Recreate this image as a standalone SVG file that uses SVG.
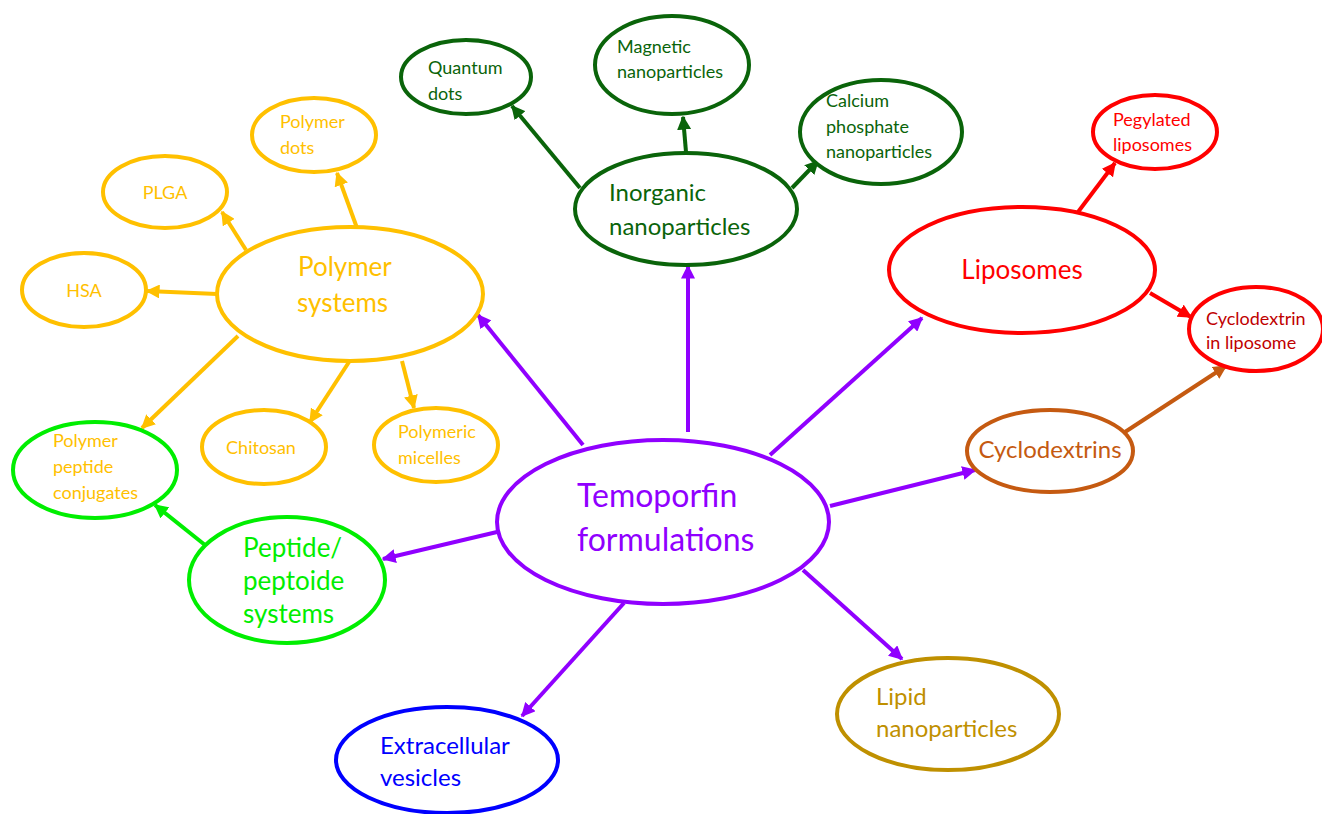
<svg xmlns="http://www.w3.org/2000/svg" width="1322" height="814" viewBox="0 0 1322 814">
<style>
text{font-family:Lato,"Open Sans","Liberation Sans",sans-serif;}
ellipse{fill:#fff;stroke-width:4;}
.s18{font-size:18px}.s24{font-size:24px}.s26{font-size:26px}.s32{font-size:32px}
.pu{stroke:#9000FF;fill:#9000FF}.or{stroke:#FFC000;fill:#FFC000}.dg{stroke:#0A640A;fill:#0A640A}
.lg{stroke:#00EE00;fill:#00EE00}.rd{stroke:#FF0000;fill:#FF0000}.br{stroke:#C55A11;fill:#C55A11}
.gd{stroke:#BF9000;fill:#BF9000}.bl{stroke:#0000FF;fill:#0000FF}
#connectors line{stroke-width:4;fill:none}
</style>
<defs>
<marker id="aPu" viewBox="0 0 10 10" refX="9" refY="5" markerWidth="14" markerHeight="14" markerUnits="userSpaceOnUse" orient="auto"><path d="M0,0L10,5L0,10z" fill="#9000FF"/></marker>
<marker id="aOr" viewBox="0 0 10 10" refX="9" refY="5" markerWidth="14" markerHeight="14" markerUnits="userSpaceOnUse" orient="auto"><path d="M0,0L10,5L0,10z" fill="#FFC000"/></marker>
<marker id="aDg" viewBox="0 0 10 10" refX="9" refY="5" markerWidth="14" markerHeight="14" markerUnits="userSpaceOnUse" orient="auto"><path d="M0,0L10,5L0,10z" fill="#0A640A"/></marker>
<marker id="aLg" viewBox="0 0 10 10" refX="9" refY="5" markerWidth="14" markerHeight="14" markerUnits="userSpaceOnUse" orient="auto"><path d="M0,0L10,5L0,10z" fill="#00EE00"/></marker>
<marker id="aRd" viewBox="0 0 10 10" refX="9" refY="5" markerWidth="14" markerHeight="14" markerUnits="userSpaceOnUse" orient="auto"><path d="M0,0L10,5L0,10z" fill="#FF0000"/></marker>
<marker id="aBr" viewBox="0 0 10 10" refX="9" refY="5" markerWidth="14" markerHeight="14" markerUnits="userSpaceOnUse" orient="auto"><path d="M0,0L10,5L0,10z" fill="#C55A11"/></marker>
</defs>
<rect width="1322" height="814" fill="#fff"/>
<g id="connectors">
<line class="pu" x1="583" y1="445" x2="478" y2="315" marker-end="url(#aPu)"/>
<line class="pu" x1="688" y1="432" x2="688" y2="266" marker-end="url(#aPu)"/>
<line class="pu" x1="770" y1="455" x2="922" y2="318" marker-end="url(#aPu)"/>
<line class="pu" x1="830" y1="506" x2="975" y2="470" marker-end="url(#aPu)"/>
<line class="pu" x1="803" y1="570" x2="902" y2="659" marker-end="url(#aPu)"/>
<line class="pu" x1="624" y1="603" x2="522" y2="716" marker-end="url(#aPu)"/>
<line class="pu" x1="497" y1="532" x2="383" y2="559" marker-end="url(#aPu)"/>
<line class="or" x1="357" y1="228" x2="337" y2="173" marker-end="url(#aOr)"/>
<line class="or" x1="246" y1="250" x2="222" y2="212" marker-end="url(#aOr)"/>
<line class="or" x1="217" y1="294" x2="147" y2="291" marker-end="url(#aOr)"/>
<line class="or" x1="238" y1="336" x2="142" y2="428" marker-end="url(#aOr)"/>
<line class="or" x1="349" y1="362" x2="310" y2="422" marker-end="url(#aOr)"/>
<line class="or" x1="402" y1="361" x2="414" y2="408" marker-end="url(#aOr)"/>
<line class="dg" x1="580" y1="188" x2="512" y2="106" marker-end="url(#aDg)"/>
<line class="dg" x1="686" y1="152" x2="683" y2="117" marker-end="url(#aDg)"/>
<line class="dg" x1="792" y1="188" x2="818" y2="161" marker-end="url(#aDg)"/>
<line class="lg" x1="205" y1="545" x2="155" y2="505" marker-end="url(#aLg)"/>
<line class="rd" x1="1078" y1="212" x2="1115" y2="163" marker-end="url(#aRd)"/>
<line class="rd" x1="1150" y1="293" x2="1191" y2="317" marker-end="url(#aRd)"/>
<line class="br" x1="1125" y1="432" x2="1226" y2="366" marker-end="url(#aBr)"/>
</g>
<g id="temoporfin"><ellipse class="pu" style="fill:#fff" cx="663" cy="522" rx="166" ry="82"/><text class="s32" fill="#9000FF" x="577" y="507">Temoporfin</text><text class="s32" fill="#9000FF" x="577" y="551">formulations</text></g>
<g id="polymer-systems"><ellipse class="or" style="fill:#fff" cx="350" cy="294" rx="133" ry="67"/><text class="s26" fill="#FFC000" x="298" y="276">Polymer</text><text class="s26" fill="#FFC000" x="297" y="312">systems</text></g>
<g id="polymer-dots"><ellipse class="or" style="fill:#fff" cx="314" cy="135" rx="62" ry="37"/><text class="s18" fill="#FFC000" x="280" y="128">Polymer</text><text class="s18" fill="#FFC000" x="280" y="154">dots</text></g>
<g id="plga"><ellipse class="or" style="fill:#fff" cx="165" cy="192" rx="62" ry="36"/><text class="s18" fill="#FFC000" x="165" y="199" text-anchor="middle">PLGA</text></g>
<g id="hsa"><ellipse class="or" style="fill:#fff" cx="84" cy="290" rx="62" ry="37"/><text class="s18" fill="#FFC000" x="84" y="297" text-anchor="middle">HSA</text></g>
<g id="chitosan"><ellipse class="or" style="fill:#fff" cx="264" cy="447" rx="62" ry="37"/><text class="s18" fill="#FFC000" x="261" y="454" text-anchor="middle">Chitosan</text></g>
<g id="polymeric-micelles"><ellipse class="or" style="fill:#fff" cx="436" cy="445" rx="62" ry="37"/><text class="s18" fill="#FFC000" x="398" y="438">Polymeric</text><text class="s18" fill="#FFC000" x="398" y="464">micelles</text></g>
<g id="polymer-peptide-conjugates"><ellipse class="lg" style="fill:#fff" cx="95" cy="470" rx="82" ry="48"/><text class="s18" fill="#FFC000" x="53" y="447">Polymer</text><text class="s18" fill="#FFC000" x="53" y="473">peptide</text><text class="s18" fill="#FFC000" x="53" y="499">conjugates</text></g>
<g id="peptide-systems"><ellipse class="lg" style="fill:#fff" cx="287" cy="580" rx="98" ry="63"/><text class="s26" fill="#00EE00" x="243" y="557">Peptide/</text><text class="s26" fill="#00EE00" x="243" y="590">peptoide</text><text class="s26" fill="#00EE00" x="243" y="623">systems</text></g>
<g id="inorganic"><ellipse class="dg" style="fill:#fff" cx="686" cy="209" rx="111" ry="56"/><text class="s24" fill="#0A640A" x="609" y="201">Inorganic</text><text class="s24" fill="#0A640A" x="609" y="235">nanoparticles</text></g>
<g id="quantum-dots"><ellipse class="dg" style="fill:#fff" cx="466" cy="77" rx="65" ry="37"/><text class="s18" fill="#0A640A" x="428" y="74">Quantum</text><text class="s18" fill="#0A640A" x="428" y="100">dots</text></g>
<g id="magnetic"><ellipse class="dg" style="fill:#fff" cx="672" cy="65" rx="77" ry="49"/><text class="s18" fill="#0A640A" x="617" y="53">Magnetic</text><text class="s18" fill="#0A640A" x="617" y="78">nanoparticles</text></g>
<g id="calcium-phosphate"><ellipse class="dg" style="fill:#fff" cx="881" cy="132" rx="81" ry="52"/><text class="s18" fill="#0A640A" x="826" y="107">Calcium</text><text class="s18" fill="#0A640A" x="826" y="133">phosphate</text><text class="s18" fill="#0A640A" x="826" y="158">nanoparticles</text></g>
<g id="liposomes"><ellipse class="rd" style="fill:#fff" cx="1022" cy="270" rx="133" ry="63"/><text class="s26" fill="#FF0000" x="1022" y="279" text-anchor="middle">Liposomes</text></g>
<g id="pegylated"><ellipse class="rd" style="fill:#fff" cx="1155" cy="132" rx="62" ry="37"/><text class="s18" fill="#FF0000" x="1113" y="126">Pegylated</text><text class="s18" fill="#FF0000" x="1113" y="151">liposomes</text></g>
<g id="cyclodextrin-liposome"><ellipse class="rd" style="fill:#fff" cx="1256" cy="329" rx="67" ry="42"/><text class="s18" fill="#C00000" x="1206" y="325">Cyclodextrin</text><text class="s18" fill="#C00000" x="1206" y="349">in liposome</text></g>
<g id="cyclodextrins"><ellipse class="br" style="fill:#fff" cx="1050" cy="451" rx="83" ry="41"/><text class="s24" fill="#C55A11" x="1050" y="458" text-anchor="middle">Cyclodextrins</text></g>
<g id="lipid-nanoparticles"><ellipse class="gd" style="fill:#fff" cx="948" cy="714" rx="111" ry="56"/><text class="s24" fill="#BF9000" x="876" y="705">Lipid</text><text class="s24" fill="#BF9000" x="876" y="737">nanoparticles</text></g>
<g id="extracellular-vesicles"><ellipse class="bl" style="fill:#fff" cx="447" cy="760" rx="111" ry="53"/><text class="s24" fill="#0000FF" x="380" y="754">Extracellular</text><text class="s24" fill="#0000FF" x="380" y="786">vesicles</text></g>
</svg>
